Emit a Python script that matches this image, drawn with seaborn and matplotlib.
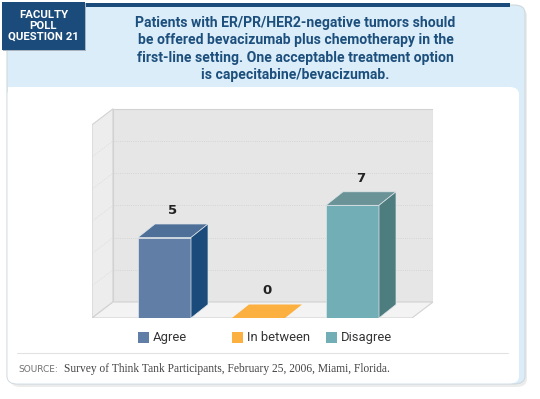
import matplotlib
matplotlib.use("Agg")
import matplotlib.pyplot as plt
from matplotlib.patches import Polygon, Rectangle, FancyBboxPatch
import seaborn as sns
import pandas as pd

categories = ["Agree", "In between", "Disagree"]
votes = [5, 0, 7]
front_colors = ["#607ea6", "#fbb040", "#72aeb5"]
top_colors = ["#4e6f98", "#fbb040", "#6a9398"]
side_colors = ["#1b4b7a", "#e89a2a", "#4e7d80"]
title = ("Patients with ER/PR/HER2-negative tumors should\n"
         "be offered bevacizumab plus chemotherapy in the\n"
         "first-line setting. One acceptable treatment option\n"
         "is capecitabine/bevacizumab.")
source = "Survey of Think Tank Participants, February 25, 2006, Miami, Florida."

sns.set_theme(style="white")
plt.rcParams['font.family'] = ['Roboto', 'DejaVu Sans']

W, H = 540, 399
fig = plt.figure(figsize=(W / 100, H / 100), dpi=100)
fig.patch.set_facecolor("white")

def fx(x):
    return x / W

def fy(y):
    return 1 - y / H

def frect(x0, y0, x1, y1, **kw):
    return Rectangle((fx(x0), fy(y1)), fx(x1) - fx(x0), fy(y0) - fy(y1),
                     transform=fig.transFigure, **kw)

# frame: shadow, light blue panel, white inner panel
fig.patches.append(FancyBboxPatch((fx(10), fy(387)), fx(517), fy(8) - fy(387),
                                  boxstyle="round,pad=0,rounding_size=0.02",
                                  transform=fig.transFigure, fc="#ececec", ec="none", zorder=0))
fig.patches.append(FancyBboxPatch((fx(7), fy(384)), fx(518), fy(5) - fy(384),
                                  boxstyle="round,pad=0,rounding_size=0.02",
                                  transform=fig.transFigure, fc="#dbedf9", ec="#cfd8de", lw=0.8, zorder=1))
fig.patches.append(FancyBboxPatch((fx(7.5), fy(383.5)), fx(511.5), fy(87) - fy(383.5),
                                  boxstyle="round,pad=0,rounding_size=0.018",
                                  transform=fig.transFigure, fc="white", ec="none", zorder=2))
fig.patches.append(frect(7.5, 87, 20, 100, fc="white", ec="none", zorder=2))
fig.patches.append(frect(85, 3, 510, 7, fc="#1b4b7a", ec="none", zorder=3))
fig.patches.append(frect(3, 3, 86, 51, fc="#aab4be", ec="none", zorder=3))
fig.patches.append(frect(2, 2, 85, 50, fc="#1b4b7a", ec="none", zorder=4))

fig.text(fx(43.5), fy(26), "FACULTY\nPOLL\nQUESTION 21", color="white", fontsize=8.2,
         fontweight="bold", ha="center", va="center", linespacing=1.1, zorder=5)
fig.text(fx(295.5), fy(49), title, color="#1d4f7d", fontsize=10.1, fontweight="bold",
         ha="center", va="center", linespacing=1.28, zorder=5)

# separator and source
fig.lines.append(plt.Line2D([fx(17), fx(508)], [fy(353), fy(353)], transform=fig.transFigure,
                            color="#e2e2e2", lw=0.8, zorder=3))
fig.text(fx(18), fy(369), "SOURCE:", color="#707070", fontsize=6.5, va="center",
         family=["DejaVu Sans"], zorder=5)
fig.text(fx(64), fy(369), source, color="#444444", fontsize=8.3, va="center",
         family=["Liberation Serif", "DejaVu Serif"], zorder=5)

# chart axes (front plane)
px_unit_x, px_unit_y = 94.0, 16.1
ax = fig.add_axes([fx(92), fy(318), fx(433) - fx(92), fy(100) - fy(318)], zorder=4)
ax.patch.set_alpha(0)
xlim = ((92 - 164.5) / px_unit_x, (433 - 164.5) / px_unit_x)
ylim = (0, (318 - 100) / px_unit_y)

wdx, wdy = 21 / px_unit_x, 16 / px_unit_y
bdx, bdy = 17 / px_unit_x, 13.5 / px_unit_y
x0f, x0b = xlim[0], xlim[0] + wdx
xrb = xlim[1]
xrf = xrb - wdx
wall_top = 12

ax.add_patch(Polygon([(x0b, wdy), (xrb, wdy), (xrb, wall_top + wdy), (x0b, wall_top + wdy)],
                     fc="#e6e6e6", ec="#d2d2d2", lw=0.8, zorder=0))
ax.add_patch(Polygon([(x0f, 0), (x0b, wdy), (x0b, wall_top + wdy), (x0f, wall_top)],
                     fc="#ededed", ec="#d2d2d2", lw=0.8, zorder=0))
ax.add_patch(Polygon([(x0f, 0), (xrf, 0), (xrb, wdy), (x0b, wdy)],
                     fc="#f3f3f3", ec="#d2d2d2", lw=0.8, zorder=0.2))
for g in range(2, wall_top, 2):
    ax.plot([x0b, xrb], [g + wdy, g + wdy], color="#cfcfcf", lw=0.6, ls=":", zorder=0.5)
    ax.plot([x0f, x0b], [g, g + wdy], color="#d8d8d8", lw=0.6, ls=":", zorder=0.5)

df = pd.DataFrame({"answer": categories, "votes": votes})
sns.barplot(data=df, x="answer", y="votes", hue="answer", palette=front_colors,
            saturation=1, width=53 / px_unit_x, legend=False, ax=ax,
            edgecolor="#dfe6ea", linewidth=0.5, zorder=2)
ax.set_xlim(*xlim)
ax.set_ylim(*ylim)

bars = [p for c in ax.containers for p in c]
for i, p in enumerate(bars):
    x0, w, h = p.get_x(), p.get_width(), p.get_height()
    x1 = x0 + w
    if h == 0:
        p.set_visible(False)
    ax.add_patch(Polygon([(x0, h), (x1, h), (x1 + bdx, h + bdy), (x0 + bdx, h + bdy)],
                         fc=top_colors[i], ec="#dfe6ea" if h else "none", lw=0.5, zorder=2.1))
    if h > 0:
        ax.add_patch(Polygon([(x1, 0), (x1 + bdx, bdy), (x1 + bdx, h + bdy), (x1, h)],
                             fc=side_colors[i], ec="#dfe6ea", lw=0.5, zorder=2.1))
    ax.text(x0 + w / 2 + bdx / 2, h + bdy + 0.45, str(votes[i]), ha="center", va="bottom",
            fontsize=9.5, fontweight="bold", color="#222222", family=["DejaVu Sans"])

    # legend entry under each bar
    lx = ax.transData.transform((x0, 0))[0] / fig.dpi / fig.get_figwidth()
    fig.patches.append(Rectangle((lx, fy(343)), fx(11), fy(332) - fy(343),
                                 transform=fig.transFigure, fc=front_colors[i], ec="none", zorder=5))
    fig.text(lx + fx(15), fy(337.5), categories[i], fontsize=9.4, color="#333333",
             va="center", zorder=5)

ax.set_axis_off()
fig.savefig("out.png", dpi=100)
